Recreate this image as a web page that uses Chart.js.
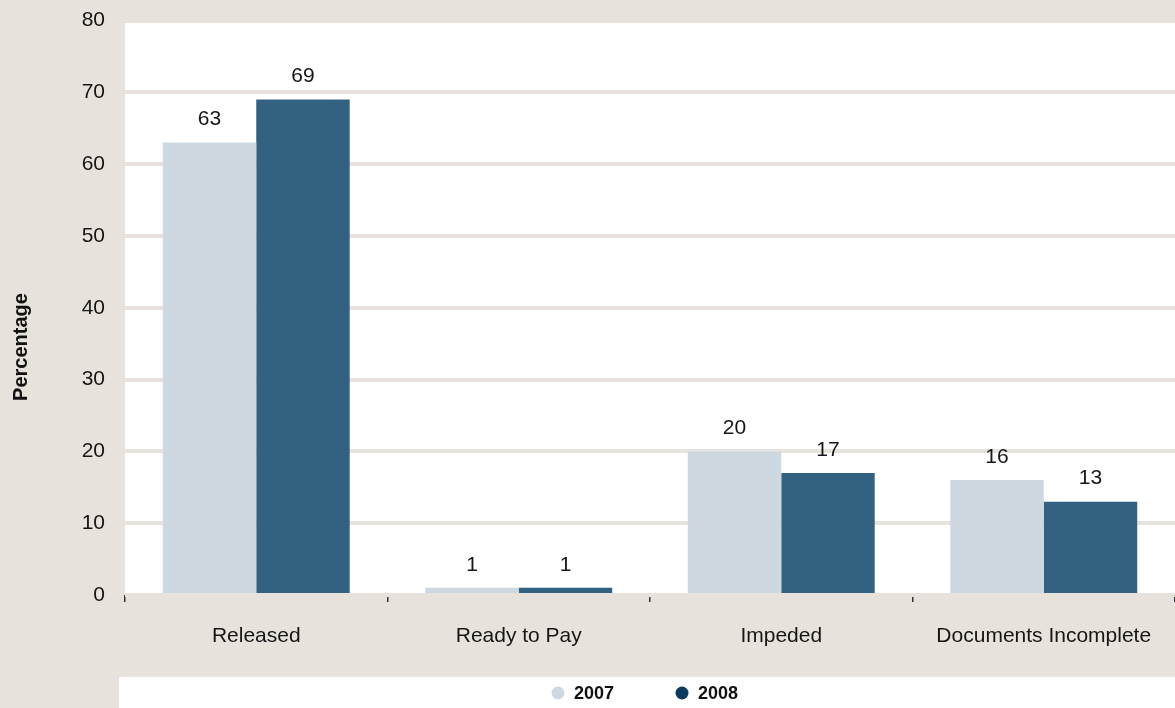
<!DOCTYPE html>
<html>
<head>
<meta charset="utf-8">
<script src="https://cdn.jsdelivr.net/npm/chart.js@4.4.0/dist/chart.umd.min.js"></script>
<style>
  html, body { margin: 0; padding: 0; background: #e8e2dd; }
  canvas { display: block; }
</style>
</head>
<body>
<canvas id="mycanvas" width="1175" height="708"></canvas>
<script>
// data
var categories = ["Released", "Ready to Pay", "Impeded", "Documents Incomplete"];
var years = ["2007", "2008"];
var values2007 = [63, 1, 20, 16];
var values2008 = [69, 1, 17, 13];
var yTicks = [0, 10, 20, 30, 40, 50, 60, 70, 80];
var yTitle = "Percentage";

var beige = "#e8e2dd";
var lightBar = "#cdd8e0";
var darkBar = "#336182";
var legendDots = [lightBar, "#0c3a5f"];
var fontFam = "'Liberation Sans', Arial, Helvetica, sans-serif";

// backgrounds: beige page, white plot, white legend strip
var bgPlugin = {
    id: "bg",
    beforeDraw: function(chart) {
        var c = chart.ctx, a = chart.chartArea;
        c.save();
        c.fillStyle = beige;
        c.fillRect(0, 0, chart.width, chart.height);
        c.fillStyle = "#ffffff";
        c.fillRect(a.left, a.top, a.right - a.left, a.bottom - a.top);
        c.fillRect(119, 677, chart.width - 119, chart.height - 677);
        c.restore();
    }
};

// numbers on top of the bars
var labelPlugin = {
    id: "barLabels",
    afterDatasetsDraw: function(chart) {
        var c = chart.ctx;
        c.save();
        c.font = "21px " + fontFam;
        c.fillStyle = "#161616";
        c.textAlign = "center";
        c.textBaseline = "middle";
        chart.data.datasets.forEach(function(ds, i) {
            chart.getDatasetMeta(i).data.forEach(function(bar, j) {
                c.fillText(ds.data[j], bar.x, bar.y - 23);
            });
        });
        c.restore();
    }
};

// legend + y title drawn by hand
var legendPlugin = {
    id: "myLegend",
    afterDraw: function(chart) {
        var c = chart.ctx;
        var dotX = [558, 682];
        c.save();
        c.font = "bold 18px " + fontFam;
        c.textBaseline = "middle";
        c.textAlign = "left";
        chart.data.datasets.forEach(function(ds, i) {
            c.fillStyle = legendDots[i];
            c.beginPath();
            c.arc(dotX[i], 693, 6.5, 0, Math.PI * 2);
            c.fill();
            c.fillStyle = "#111";
            c.fillText(ds.label, dotX[i] + 16, 694);
        });
        // y axis title
        c.translate(21, 347);
        c.rotate(-Math.PI / 2);
        c.textAlign = "center";
        c.font = "bold 20px " + fontFam;
        c.fillText(yTitle, 0, 0);
        c.restore();
    }
};

var ctx = document.getElementById("mycanvas");

var chart = new Chart(ctx, {
    type: "bar",
    data: {
        labels: categories,
        datasets: [
            {
                label: years[0],
                data: values2007,
                backgroundColor: lightBar,
                categoryPercentage: 0.712,
                barPercentage: 1.0
            },
            {
                label: years[1],
                data: values2008,
                backgroundColor: darkBar,
                categoryPercentage: 0.712,
                barPercentage: 1.0
            }
        ]
    },
    options: {
        responsive: false,
        animation: false,
        layout: { padding: { top: 20.5, right: 0, bottom: 31, left: 0 } },
        plugins: {
            legend: { display: false },
            tooltip: { enabled: false }
        },
        scales: {
            x: {
                grid: {
                    offset: true,
                    drawOnChartArea: false,
                    drawTicks: true,
                    tickLength: 7,
                    color: "#333",
                    lineWidth: 1.5
                },
                border: { display: false },
                ticks: {
                    color: "#161616",
                    font: { family: fontFam, size: 21 },
                    padding: 22
                },
                afterFit: function(scale) {
                    scale.height = 82;
                    scale.paddingLeft = 0;
                    scale.paddingRight = 0;
                }
            },
            y: {
                min: 0,
                max: 80,
                afterBuildTicks: function(scale) {
                    scale.ticks = yTicks.map(function(v) { return { value: v }; });
                },
                grid: {
                    color: beige,
                    lineWidth: 4,
                    drawTicks: false
                },
                border: { display: false },
                ticks: {
                    color: "#161616",
                    font: { family: fontFam, size: 21 },
                    padding: 20
                },
                afterFit: function(scale) {
                    scale.width = 125;
                    scale.paddingTop = 0;
                    scale.paddingBottom = 0;
                }
            }
        }
    },
    plugins: [bgPlugin, labelPlugin, legendPlugin]
});
</script>
</body>
</html>
